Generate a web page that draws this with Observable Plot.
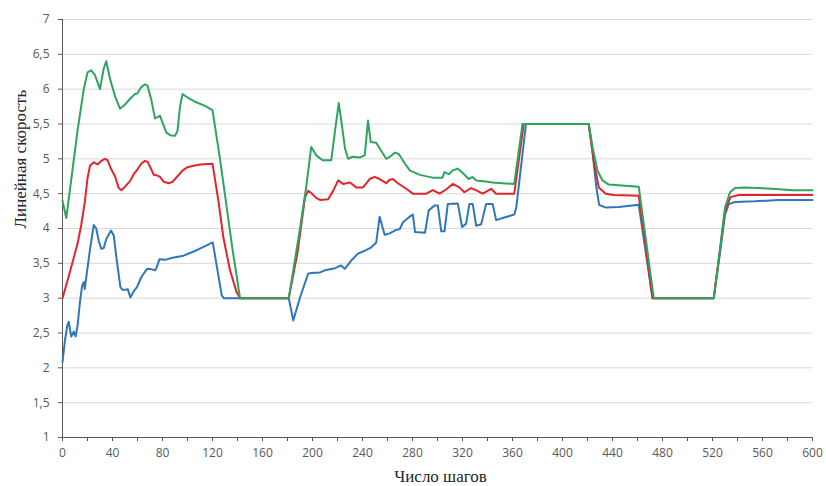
<!DOCTYPE html>
<html><head><meta charset="utf-8">
<script src="https://cdn.jsdelivr.net/npm/d3@7"></script>
<script src="https://cdn.jsdelivr.net/npm/@observablehq/plot@0.6"></script>
<style>html,body{margin:0;padding:0;background:#fff}</style>
</head><body><div id="chart"></div>
<script>
// Y axis title and X axis title
const yTitle = "Линейная скорость";
const xTitle = "Число шагов";

// Tick values
const yTicks = [1, 1.5, 2, 2.5, 3, 3.5, 4, 4.5, 5, 5.5, 6, 6.5, 7];
const xTicks = [0,20,40,60,80,100,120,140,160,180,200,220,240,260,280,300,320,340,360,380,400,420,440,460,480,500,520,540,560,580,600];
const xLabels = [0,40,80,120,160,200,240,280,320,360,400,440,480,520,560,600];

// Blue series
const blueSteps = [0,2,4,5,7,9,10.5,12,14,15.7,17,17.8,19,22,25,27,29,31,33,35,38.8,41,43,46.3,48,50.3,52.2,54.3,57,59.6,63,67.6,70,74.2,75.5,77.6,82,88,96.8,105,112,120.2,124,127.4,129,181,184.6,190,196.5,199,206,210,218,223,225.8,231,236.4,241.7,247,251,253.7,257.7,261.7,267,269.7,272.4,277.7,280.3,282,290,293,297.6,300.3,303,305.6,308.2,316.2,319.7,322.9,325.5,328.2,330.9,334.9,338.9,344.2,346.9,352.2,361.4,363,370.8,421,424,427,429.3,434.6,445,461,472,521,526,530,533,538,554,573,600];
const blueValues = [2.08,2.4,2.62,2.66,2.45,2.52,2.45,2.6,2.95,3.18,3.23,3.13,3.3,3.7,4.05,4.0,3.82,3.71,3.72,3.85,3.97,3.9,3.6,3.16,3.12,3.12,3.13,3.01,3.1,3.16,3.3,3.42,3.42,3.40,3.45,3.56,3.55,3.58,3.61,3.67,3.73,3.80,3.4,3.04,3.0,3.0,2.68,3.01,3.35,3.36,3.37,3.40,3.43,3.47,3.42,3.54,3.64,3.68,3.73,3.80,4.17,3.91,3.93,3.98,3.99,4.09,4.17,4.20,3.95,3.94,4.26,4.33,4.33,3.96,3.96,4.35,4.36,4.02,4.07,4.35,4.35,4.04,4.06,4.35,4.35,4.12,4.15,4.20,4.3,5.5,5.5,5.1,4.6,4.34,4.30,4.31,4.34,3.0,3.0,3.65,4.2,4.35,4.38,4.39,4.41,4.41];

// Red series
const redSteps = [0,4,9,12,15,18,20,22,25,28,31,34,36,39,42,45,47,50,54,57,60,63,66,68,71,73,76,78,81,85,88,92,96,100,105,110,120,124.7,128.7,134,139.4,142,181,188,194,196.5,199,203,206,212.5,216.5,220.5,224.5,230,235,240.4,245.7,249.7,253.7,259,261.7,264.3,268.3,275,280.3,291,296.3,301.6,306.9,312.2,317.5,321.5,326.8,330.7,336.2,342.9,346.9,361.4,369,421,425,429,434.6,441,461,472,521,526,530,534.4,541,600];
const redValues = [3.0,3.25,3.58,3.78,4.05,4.4,4.72,4.9,4.95,4.92,4.97,5.0,4.98,4.85,4.75,4.58,4.55,4.6,4.68,4.78,4.85,4.93,4.97,4.96,4.85,4.77,4.76,4.74,4.67,4.65,4.67,4.75,4.83,4.88,4.9,4.92,4.93,4.4,3.87,3.4,3.08,3.0,3.0,3.65,4.45,4.54,4.51,4.44,4.41,4.42,4.54,4.69,4.64,4.66,4.59,4.59,4.71,4.74,4.71,4.65,4.70,4.71,4.65,4.57,4.50,4.50,4.55,4.50,4.56,4.64,4.59,4.52,4.58,4.55,4.50,4.57,4.50,4.50,5.5,5.5,4.97,4.59,4.50,4.48,4.47,3.0,3.0,3.7,4.25,4.45,4.48,4.48];

// Green series
const greenSteps = [0,3,7,12,17,20,23,26,28,30,33,35,38,42,46,50,55,58,60,63,66,68,71,74,76,78,80,83,86,90,92,94,96,100,106,114,120,126,131,136,139.5,142,181,190,195,199,203,208,215,218,221,223,226,228.5,232,238,241.8,244.4,246.6,251,254,259,262,266,269,274,278,286,296,304,305.5,309,312,316,320,325,328,331,340,344,352,361.4,368,421,424,428,432,437,445,461,473,521,526,530,534,538,546,568,584,600];
const greenValues = [4.40,4.15,4.7,5.4,6.0,6.24,6.27,6.2,6.1,6.0,6.3,6.4,6.15,5.9,5.72,5.78,5.88,5.93,5.94,6.03,6.07,6.05,5.85,5.58,5.60,5.62,5.52,5.38,5.34,5.33,5.40,5.75,5.93,5.88,5.82,5.76,5.70,5.0,4.35,3.7,3.3,3.0,3.0,4.0,4.6,5.17,5.05,4.98,4.98,5.4,5.80,5.55,5.15,5.0,5.03,5.02,5.05,5.55,5.24,5.23,5.14,5.0,5.03,5.09,5.07,4.93,4.83,4.77,4.73,4.73,4.81,4.78,4.83,4.86,4.80,4.71,4.74,4.69,4.67,4.66,4.65,4.64,5.5,5.5,5.17,4.83,4.69,4.63,4.62,4.60,3.0,3.0,3.7,4.3,4.52,4.58,4.59,4.57,4.55,4.55];

const blueColor = "#2e78ba";
const redColor = "#e2242b";
const greenColor = "#2ea55e";
const toRows = (steps, values) => steps.map((s, i) => ({step: s, value: values[i]}));
const blueRows = toRows(blueSteps, blueValues);
const redRows = toRows(redSteps, redValues);
const greenRows = toRows(greenSteps, greenValues);

const fmt = d => String(d).replace(".", ",");

const chart = Plot.plot({
  width: 826,
  height: 486,
  marginLeft: 62,
  marginRight: 14,
  marginTop: 19,
  marginBottom: 49,
  style: {fontFamily: "Open Sans", fontSize: "12px", color: "#595959", background: "#fff"},
  x: {domain: [0, 600]},
  y: {domain: [1, 7]},
  marks: [
    Plot.gridY(yTicks.filter(d => d > 1), {stroke: "#d9d9d9", strokeOpacity: 1, strokeWidth: 1}),
    Plot.axisY(yTicks, {tickSize: 4, tickPadding: 9, tickFormat: fmt, label: null, stroke: "#595959", fill: "#595959"}),
    Plot.axisX(xTicks, {tickSize: 4, tickPadding: 7, tickFormat: d => xLabels.includes(d) ? String(d) : "", label: null, stroke: "#595959", fill: "#595959"}),
    Plot.ruleX([0], {stroke: "#595959", strokeWidth: 1}),
    Plot.ruleY([1], {stroke: "#595959", strokeWidth: 1}),
    Plot.line(blueRows, {x: "step", y: "value", stroke: blueColor, strokeWidth: 2}),
    Plot.line(redRows, {x: "step", y: "value", stroke: redColor, strokeWidth: 2}),
    Plot.line(greenRows, {x: "step", y: "value", stroke: greenColor, strokeWidth: 2}),
    Plot.text([yTitle], {frameAnchor: "left", rotate: -90, dx: -42, fontFamily: "Liberation Serif", fontSize: 17, fill: "#262626"}),
    Plot.text([xTitle], {frameAnchor: "bottom", lineAnchor: "bottom", dx: 3, dy: 44, fontFamily: "Liberation Serif", fontSize: 17, fill: "#262626"})
  ]
});
document.getElementById("chart").appendChild(chart);
</script>
</body></html>
